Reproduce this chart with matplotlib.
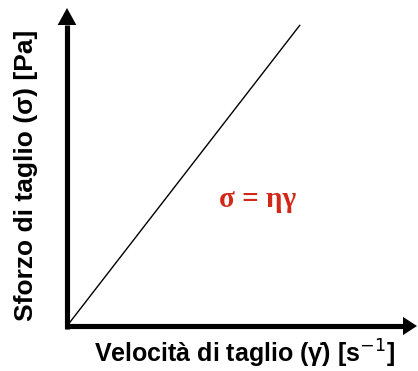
import matplotlib
matplotlib.use("Agg")
import matplotlib.pyplot as plt

# data (fractions of axis range)
shear_rate = [0.0, 0.666]
shear_stress = [0.0, 0.947]
xlabel = "Velocità di taglio (γ\u0307) [s$^{-1}$]"
ylabel = "Sforzo di taglio (σ) [Pa]"
equation = "σ = ηγ"

W, H = 418, 371
fig = plt.figure(figsize=(W / 100, H / 100), dpi=100)
fig.patch.set_facecolor("white")
plt.rcParams['font.family'] = ['Liberation Sans', 'DejaVu Sans']

x0, y0, x1, y1 = 67, 326, 417, 8
ax = fig.add_axes([x0 / W, (H - y0) / H, (x1 - x0) / W, (y0 - y1) / H])
ax.set_xlim(0, 1)
ax.set_ylim(0, 1)
ax.axis("off")

ax.plot(shear_rate, shear_stress, color="black", lw=1.0, solid_capstyle="butt")

# axis shafts
shaft_lw = 3.7
head_len_x = 14 / (x1 - x0)
head_len_y = 17 / (y0 - y1)
ax.plot([-0.007, 1 - head_len_x], [0, 0], color="black", lw=shaft_lw,
        solid_capstyle="butt", clip_on=False)
ax.plot([0, 0], [-0.008, 1 - head_len_y], color="black", lw=shaft_lw,
        solid_capstyle="butt", clip_on=False)

# arrow heads
ax.annotate("", xy=(1.0, 0), xytext=(1 - head_len_x - 0.02, 0),
            xycoords="axes fraction",
            arrowprops=dict(arrowstyle="-|>,head_length=1.0,head_width=0.65",
                            lw=0, color="black", shrinkA=0, shrinkB=0,
                            mutation_scale=14 * 72 / 100),
            annotation_clip=False)
ax.annotate("", xy=(0, 1.0), xytext=(0, 1 - head_len_y - 0.02),
            xycoords="axes fraction",
            arrowprops=dict(arrowstyle="-|>,head_length=1.0,head_width=0.55",
                            lw=0, color="black", shrinkA=0, shrinkB=0,
                            mutation_scale=17 * 72 / 100),
            annotation_clip=False)

ax.text(258 / W, 1 - 200 / H, equation, transform=fig.transFigure,
        color="#d2281a", fontsize=21, fontweight="bold", ha="center",
        va="center", family=['Liberation Serif', 'DejaVu Serif'])

fig.text(244 / W, 1 - 354 / H, xlabel, fontsize=18, fontweight="bold",
         ha="center", va="center")
fig.text(26 / W, 1 - 175 / H, ylabel, fontsize=19, fontweight="bold",
         ha="center", va="center", rotation=90)

fig.savefig("out.png", dpi=100)
